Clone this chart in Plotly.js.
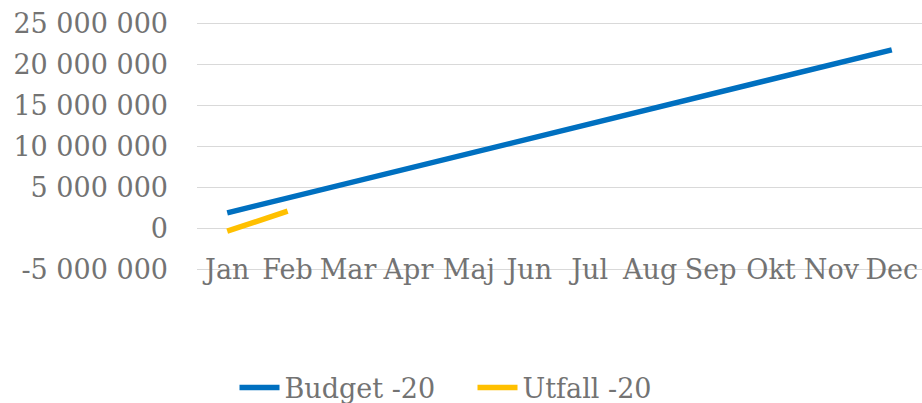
<!DOCTYPE html>
<html>
<head>
<meta charset="utf-8">
<script src="https://cdn.plot.ly/plotly-3.0.1.min.js"></script>
<style>html,body{margin:0;padding:0;background:#fff}#chart{width:922px;height:403px}</style>
</head>
<body>
<div id="chart"></div>
<script>
const months = ["Jan","Feb","Mar","Apr","Maj","Jun","Jul","Aug","Sep","Okt","Nov","Dec"];
const budget20 = [1900000, 3700000, 5500000, 7300000, 9100000, 10900000, 12700000, 14500000, 16300000, 18100000, 19950000, 21800000];
const utfall20 = [-330000, 2100000];
const yTickVals = [-5000000, 0, 5000000, 10000000, 15000000, 20000000, 25000000];
const yTickText = ["-5 000 000", "0", "5 000 000", "10 000 000", "15 000 000", "20 000 000", "25 000 000"];

const font = {family: "DejaVu Serif, serif", size: 27, color: "#737373"};

const traces = [
  {x: months, y: budget20, name: "Budget -20", type: "scatter", mode: "lines",
   line: {color: "#0070C0", width: 5.5}},
  {x: months.slice(0, utfall20.length), y: utfall20, name: "Utfall -20", type: "scatter", mode: "lines",
   line: {color: "#FFC000", width: 5.5}}
];

const layout = {
  width: 922, height: 403,
  margin: {l: 197, r: 0, t: 22, b: 132, autoexpand: false},
  paper_bgcolor: "#fff", plot_bgcolor: "#fff",
  font: font,
  showlegend: true,
  legend: {orientation: "h", x: 0.38, xanchor: "center", y: -0.47, yanchor: "middle",
           font: font, itemwidth: 40, entrywidth: 183, entrywidthmode: "pixels", traceorder: "normal"},
  xaxis: {type: "category", range: [-0.5, 11.5], showgrid: false, zeroline: false,
          showline: false, ticks: "", tickfont: font, ticklabelstandoff: -20, fixedrange: true},
  yaxis: {range: [-5200000, 25200000], tickvals: yTickVals, ticktext: yTickText,
          showgrid: true, gridcolor: "#d9d9d9", gridwidth: 1.5, zeroline: false,
          showline: false, ticks: "", tickfont: font, ticklabelstandoff: 28, fixedrange: true}
};

Plotly.newPlot("chart", traces, layout, {staticPlot: true, displayModeBar: false});
</script>
</body>
</html>
